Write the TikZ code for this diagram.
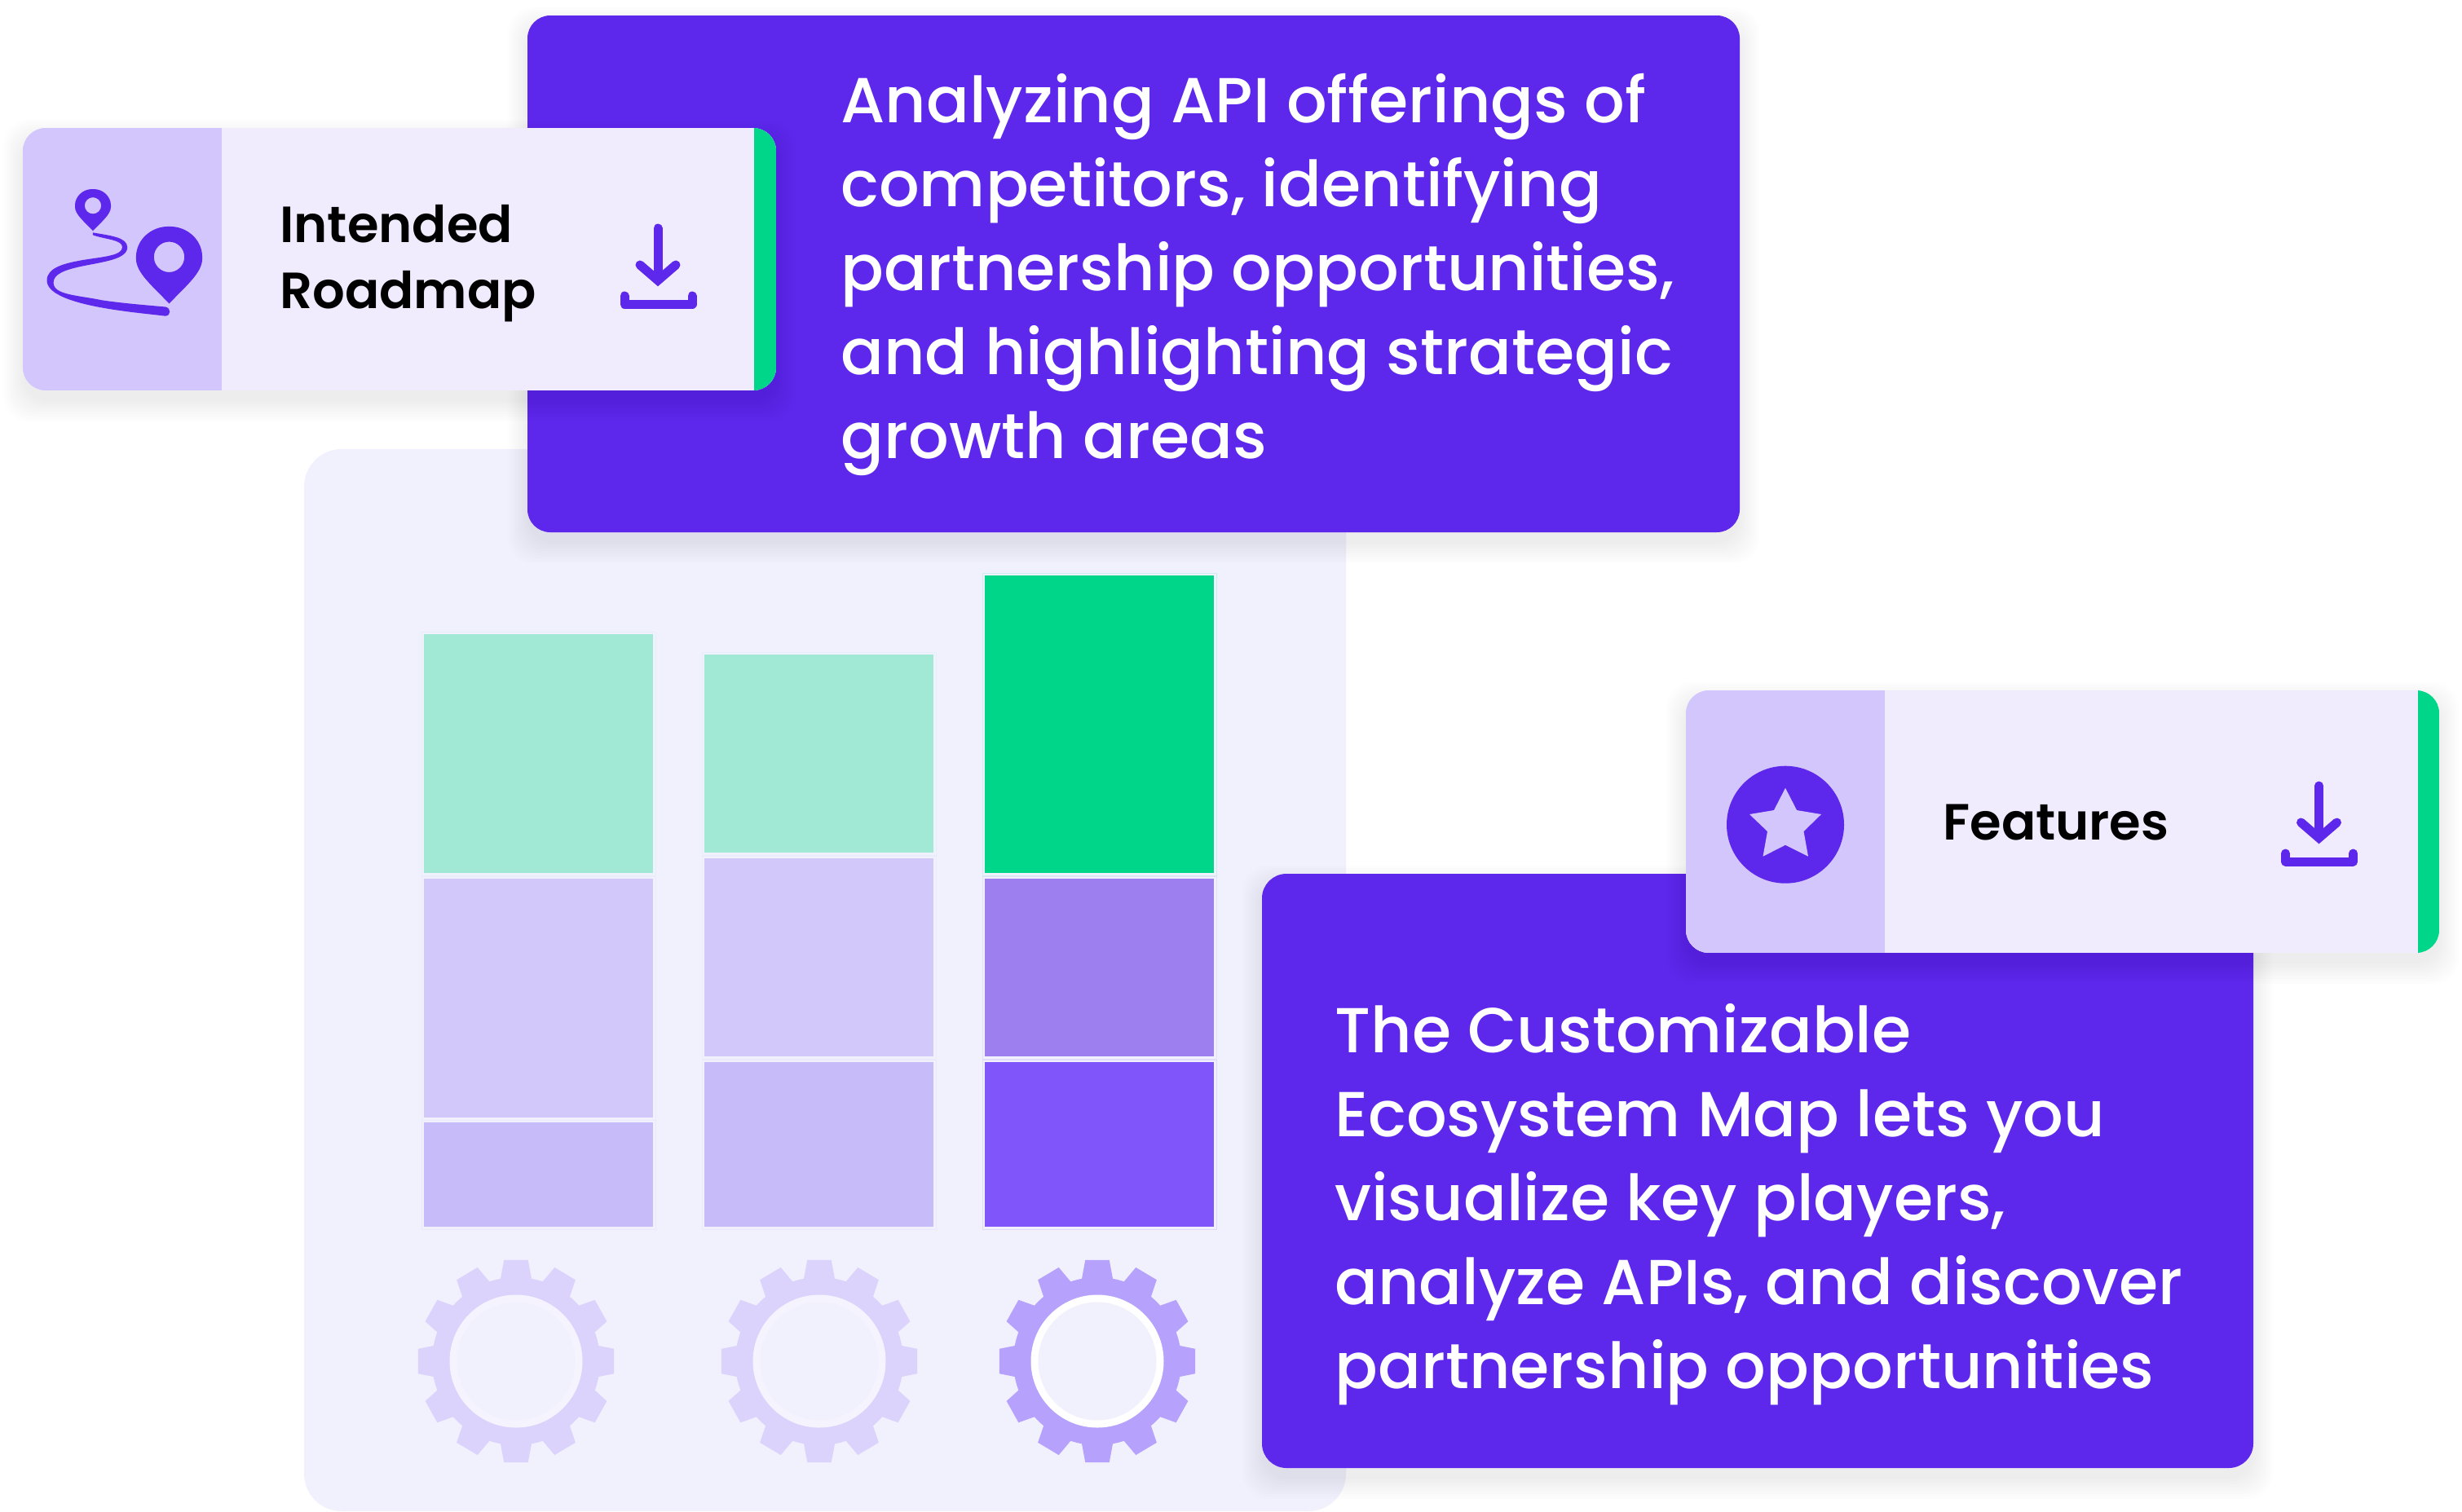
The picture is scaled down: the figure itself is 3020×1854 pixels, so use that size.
\documentclass[tikz,border=0pt]{standalone}
\usepackage{fontspec}
\setmainfont{Poppins}
\newfontfamily\boxfont{Poppins Medium}
\newfontfamily\cardfont{Poppins SemiBold}
\definecolor{panelbg}{HTML}{F1F0FD}
\definecolor{boxviolet}{HTML}{5D28EC}
\definecolor{cardpale}{HTML}{F0ECFD}
\definecolor{cardlilac}{HTML}{D2C6FC}
\definecolor{edgegreen}{HTML}{00D689}
\definecolor{barmint}{HTML}{A1E8D5}
\definecolor{barlilac}{HTML}{D2C8F9}
\definecolor{barmauve}{HTML}{C8BBFA}
\definecolor{barviolet}{HTML}{9D7FF0}
\definecolor{barpurple}{HTML}{8055FA}
\definecolor{gearpale}{HTML}{DBD3FC}
\definecolor{geardeep}{HTML}{B6A2FD}
\definecolor{ringpale}{HTML}{F5F4FE}
\tikzset{
	boxtext/.style={anchor=base west,inner sep=0pt,text=white,align=left,font=\boxfont\fontsize{39}{51.5}\selectfont},
	cardtext/.style={anchor=base west,inner sep=0pt,text=black,align=left,font=\cardfont\fontsize{31.2}{40.5}\selectfont},
	pics/softshadow/.style n args={4}{code={
		\foreach \s in {24,21,...,0}
			\fill [black,opacity=0.007,rounded corners=16pt] (#1-\s,#2-\s+14) rectangle (#3+\s,#4+\s+14);
	}},
	pics/mappin/.style={code={
		\fill [boxviolet,even odd rule,rounded corners=0.5pt] (0,1.33) .. controls (-0.5,0.8) and (-1,0.4) .. (-1,-0.05)
			.. controls (-1,-0.6) and (-0.55,-1) .. (0,-1) .. controls (0.55,-1) and (1,-0.6) .. (1,-0.05)
			.. controls (1,0.4) and (0.5,0.8) .. (0,1.33) (0,-0.08) circle (0.46);
	}},
	pics/saveicon/.style={code={
		\draw [boxviolet,line width=5.5pt,line cap=round] (0,0) -- (0,62);
		\draw [boxviolet,line width=5.5pt,line cap=round] (-22,45) -- (0,64) -- (22,45);
		\draw [boxviolet,line width=5.5pt,line cap=round,line join=round] (-41,83) -- (-41,93) -- (42,93) -- (42,83);
	}},
	pics/gearwheel/.style 2 args={code={
		\fill [#1] (0,0) circle (103);
		\foreach \a in {0,30,...,330}
			\fill [#1,xscale=0.968] (\a-11:103) -- (\a-7:125) -- (\a+7:125) -- (\a+11:103) -- cycle;
		\fill [#2] (0,0) circle (81.5);
		\fill [panelbg] (0,0) circle (72.5);
	}}
}
\begin{document}
\begin{tikzpicture}[x=0.5pt,y=-0.5pt]
	\useasboundingbox (0,0) rectangle (3020,1854);
	\fill [panelbg,rounded corners=23pt] (373,551) rectangle (1651,1854);

	\foreach \xa/\xb/\ya/\yb/\c in {
		520/801/778/1071/barmint,520/801/1078/1371/barlilac,520/801/1377/1505/barmauve,
		864/1145/803/1046/barmint,864/1145/1053/1296/barlilac,864/1145/1303/1505/barmauve,
		1208/1489/706/1071/edgegreen,1208/1489/1078/1296/barviolet,1208/1489/1303/1505/barpurple}
	{
		\draw [\c!15!panelbg,line width=0.5pt] (\xa-3,\ya-3) rectangle (\xb+3,\yb+3);
		\fill [\c] (\xa,\ya) rectangle (\xb,\yb);
	}

	\pic at (633,1670) {gearwheel={gearpale}{ringpale}};
	\pic at (1005,1670) {gearwheel={gearpale}{ringpale}};
	\pic at (1346,1670) {gearwheel={geardeep}{white}};

	\pic {softshadow={647}{19}{2134}{653}};
	\fill [boxviolet,rounded corners=14pt] (647,19) rectangle (2134,653);
	\node [boxtext] (offerings) at (1031,562) {Analyzing API offerings of\\competitors, identifying\\partnership opportunities,\\and highlighting strategic\\growth areas};

	\pic {softshadow={28}{157}{952}{479}};
	\begin{scope}
		\clip [rounded corners=14pt] (28,157) rectangle (952,479);
		\fill [cardpale] (28,157) rectangle (952,479);
		\fill [cardlilac] (28,157) rectangle (272,479);
		\fill [edgegreen] (925,157) rectangle (952,479);
	\end{scope}
	\pic [scale=22] at (114,254) {mappin};
	\pic [scale=40.6] at (207.5,318.5) {mappin};
	\fill [boxviolet] (113.75,285.3) .. controls (135,289) and (156,291) .. (156.25,303.3)
		.. controls (156,318) and (128,321) .. (100,326.7) .. controls (80,331) and (65.6,336) .. (65.6,346.7)
		.. controls (65.6,362) and (95,362) .. (125,368.3) .. controls (150,372) and (175,374) .. (203,376.5)
		.. controls (210,378) and (210,387) .. (203,387.7) .. controls (165,383) and (57.5,375) .. (57.5,344)
		.. controls (57.5,328) and (80,323) .. (100,319.3) .. controls (125,315) and (150,314) .. (150,303.3)
		.. controls (150,294) and (130,294) .. (113.75,288.3) -- cycle;
	\node [cardtext] (roadmap) at (343,378) {Intended\\Roadmap};
	\pic at (807,280) {saveicon};

	\pic {softshadow={1548}{1072}{2764}{1801}};
	\fill [boxviolet,rounded corners=15pt] (1548,1072) rectangle (2764,1801);
	\node [boxtext] (ecosystem) at (1637,1703) {The Customizable\\Ecosystem Map lets you\\visualize key players,\\analyze APIs, and discover\\partnership opportunities};

	\pic {softshadow={2068}{847}{2992}{1169}};
	\begin{scope}
		\clip [rounded corners=14pt] (2068,847) rectangle (2992,1169);
		\fill [cardpale] (2068,847) rectangle (2992,1169);
		\fill [cardlilac] (2068,847) rectangle (2312,1169);
		\fill [edgegreen] (2966,847) rectangle (2992,1169);
	\end{scope}
	\fill [boxviolet] (2190,1011.7) circle (72);
	\fill [cardlilac,line join=round] (2190,966.7) -- (2204,994) -- (2234,999) -- (2212.5,1020) -- (2218,1050.7)
		-- (2190,1036.7) -- (2162.5,1050.7) -- (2168,1020) -- (2146,999) -- (2176,994) -- cycle;
	\node [cardtext] (features) at (2383,1030) {Features};
	\pic at (2844.5,964) {saveicon};
\end{tikzpicture}
\end{document}
